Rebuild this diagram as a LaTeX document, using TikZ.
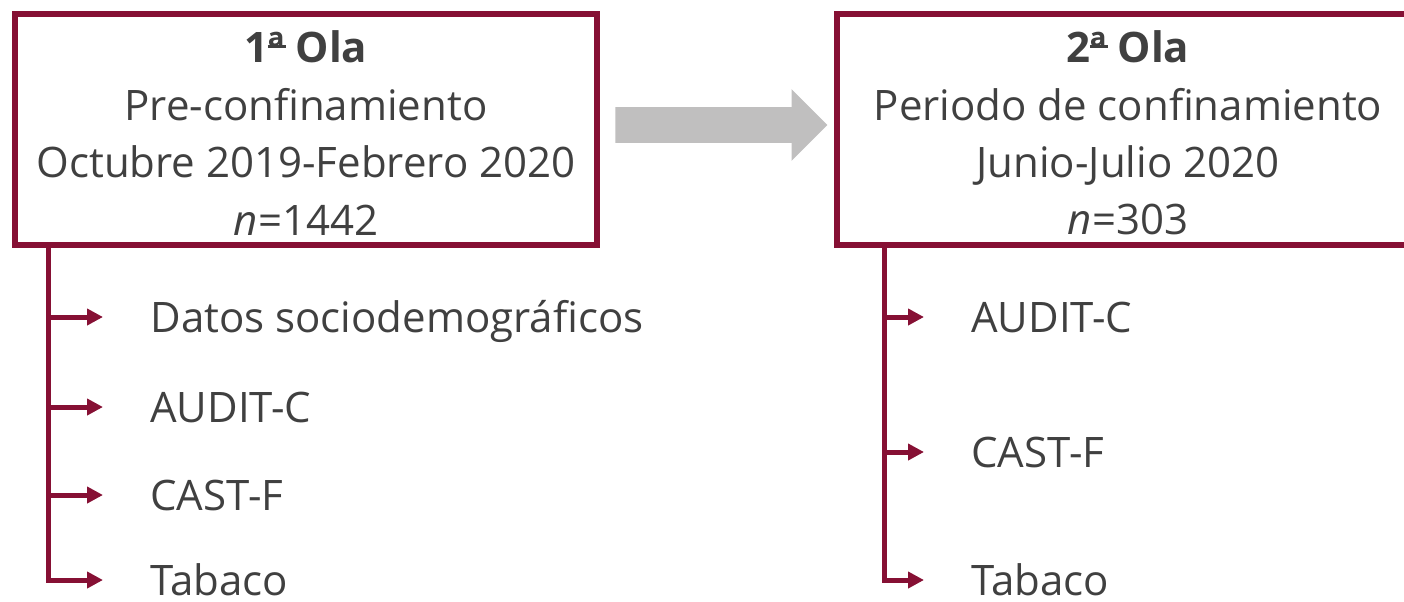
\documentclass[tikz,border=0pt]{standalone}
\usepackage{fontspec}
\setmainfont{Open Sans}
\usetikzlibrary{shapes.arrows,arrows.meta}
\definecolor{granate}{HTML}{861034}
\definecolor{texto}{HTML}{404040}
\definecolor{gris}{HTML}{C0BFBF}
\newcommand{\ordA}{\ooalign{ª\cr\hidewidth\raisebox{0.36em}{\rule{0.42em}{0.07em}}\hidewidth\cr}}

\begin{document}
\begin{tikzpicture}[x=0.5pt, y=-0.5pt,
    ola/.style={draw=granate, line width=3pt, minimum width=291pt, minimum height=115.5pt, inner sep=0pt},
    titulo/.style={align=center, text=texto, inner sep=0pt, font=\fontsize{21}{28.7}\selectfont},
    item/.style={anchor=west, inner sep=0pt, text=texto, font=\fontsize{21}{24}\selectfont, text height=19.5pt, text depth=4.5pt},
    rama/.style={draw=granate, line width=2.5pt, -{Triangle[length=8pt, width=8pt]}, shorten >=23.5pt},
    flecha/.style={single arrow, fill=gris, inner xsep=0pt, inner ysep=8.75pt, minimum height=106pt, single arrow head extend=9pt, single arrow tip angle=90},
    ]
    \useasboundingbox (0,0) rectangle (1404,601);
    \clip (0,0) rectangle (1404,601);

    % olas
    \node[ola] (ola1) at (306,129.5) {};
    \node[ola] (ola2) at (1128,129.5) {};
    \node[titulo] (t1) at (306,133) {\textbf{1\ordA\ Ola}\\Pre-confinamiento\\Octubre 2019-Febrero 2020\\\textit{n}=1442};
    \node[titulo] (t2) at (1128,133) {\textbf{2\ordA\ Ola}\\Periodo de confinamiento\\Junio-Julio 2020\\\textit{n}=303};
    \node[flecha, anchor=tail] (paso) at ([shift={(15,-4.5)}]ola1.east) {};

    % variables
    \node[item] (dat1) at (150,317) {Datos sociodemográficos};
    \node[item] (aud1) at (150,407) {AUDIT-C};
    \node[item] (cas1) at (150,495) {CAST-F};
    \node[item] (tab1) at (150,580) {Tabaco};
    \node[item] (aud2) at (971,317) {AUDIT-C};
    \node[item] (cas2) at (971,452) {CAST-F};
    \node[item] (tab2) at (971,580) {Tabaco};

    \coordinate (tr1) at ([xshift=18pt]ola1.south west);
    \coordinate (tr2) at ([xshift=25pt]ola2.south west);
    \draw[rama] (tr1) |- (tab1);
    \draw[rama] (tr1 |- dat1) -- (dat1);
    \draw[rama] (tr1 |- aud1) -- (aud1);
    \draw[rama] (tr1 |- cas1) -- (cas1);
    \draw[rama] (tr2) |- (tab2);
    \draw[rama] (tr2 |- aud2) -- (aud2);
    \draw[rama] (tr2 |- cas2) -- (cas2);
  \end{tikzpicture}
\end{document}
